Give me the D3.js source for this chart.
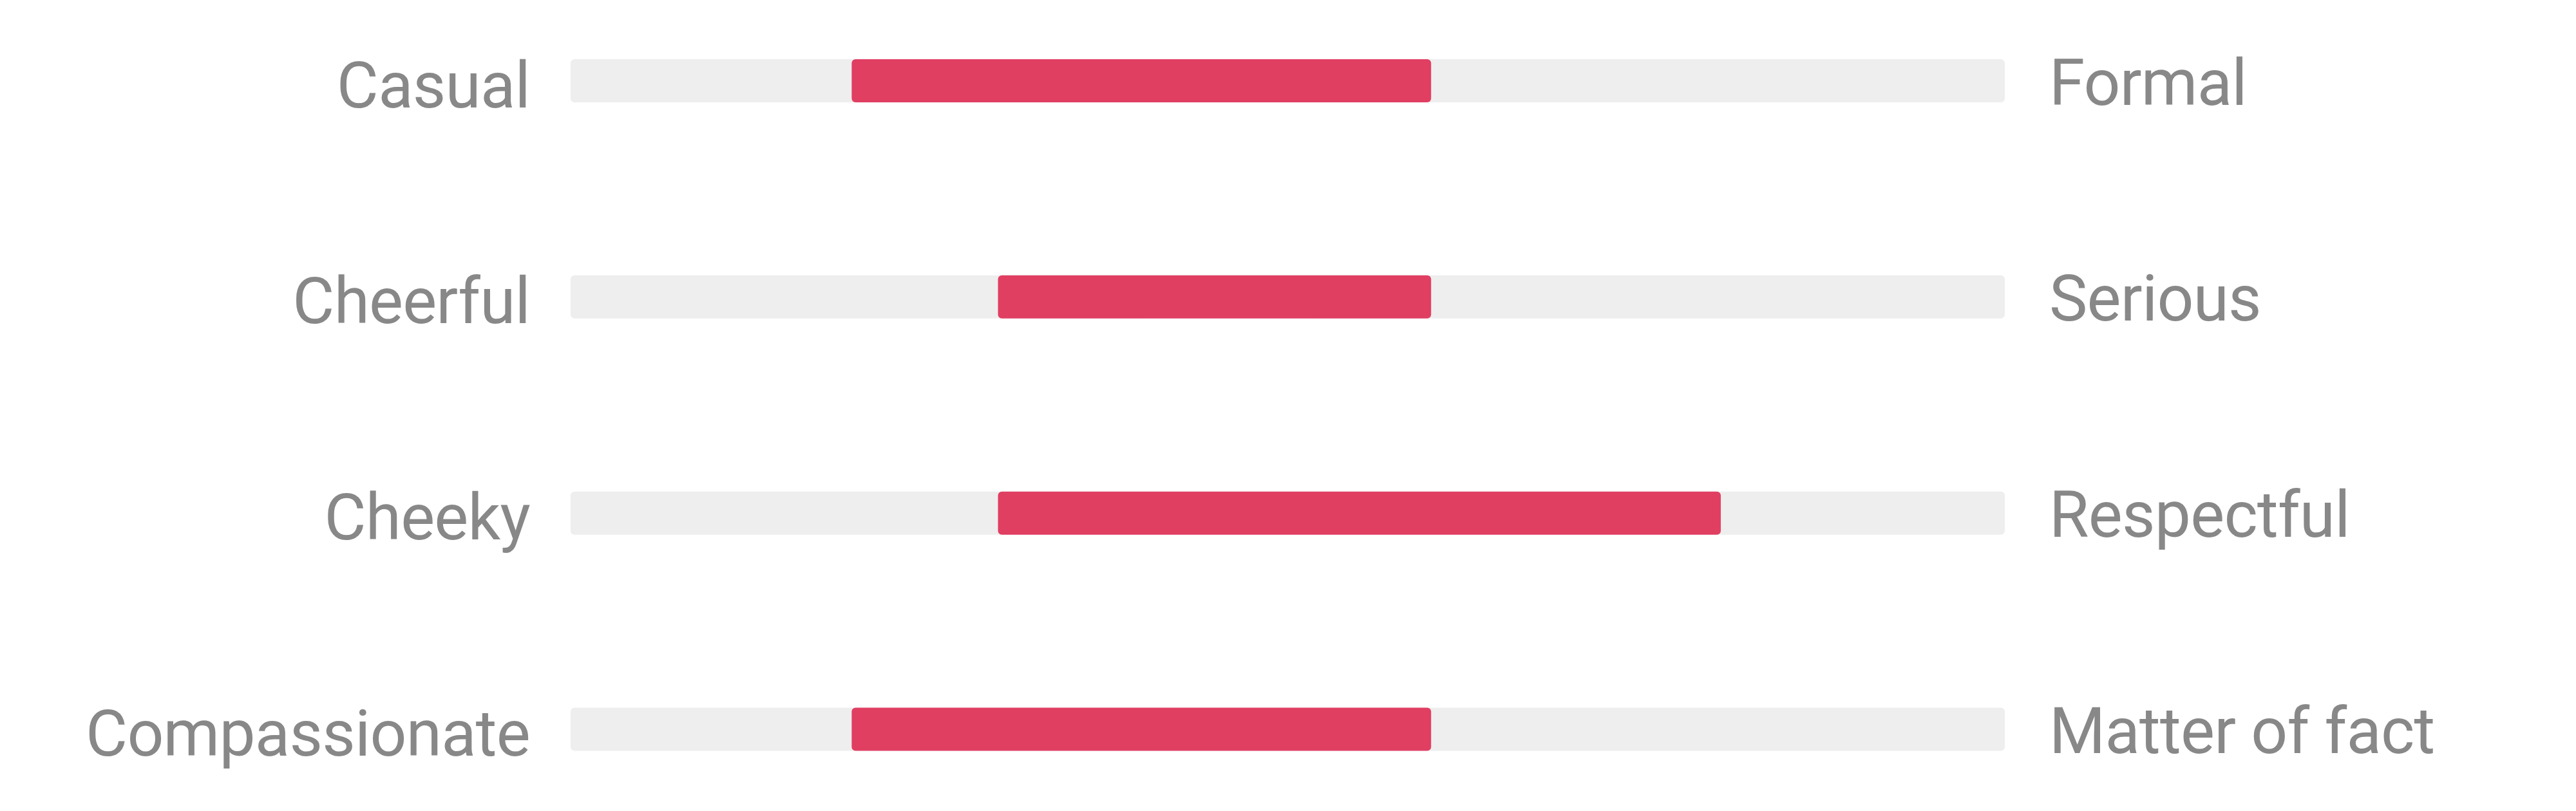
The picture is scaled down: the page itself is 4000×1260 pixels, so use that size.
<!DOCTYPE html>
<html>
<head>
<meta charset="utf-8">
<script src="https://cdn.jsdelivr.net/npm/d3@7"></script>
<style>
  html, body { margin: 0; padding: 0; background: #ffffff; }
  svg { display: block; }
</style>
</head>
<body>
<script>
// Data
const leftLabels = ["Casual", "Cheerful", "Cheeky", "Compassionate"];
const rightLabels = ["Formal", "Serious", "Respectful", "Matter of fact"];
const rangeStart = [19.6, 29.8, 29.8, 19.6];
const rangeEnd = [60, 60, 80.2, 60];
const scaleDomain = [0, 100];

const W = 4000, H = 1260;
const svg = d3.select("body").append("svg").attr("width", W).attr("height", H);

const x = d3.scaleLinear().domain(scaleDomain).range([886, 3113]);
const y = d3.scalePoint().domain(leftLabels).range([125.5, 1133]);
const barH = 67;
const fontSize = 100;
const textColor = "#888888";

const rows = leftLabels.map((l, i) => ({
  left: l, right: rightLabels[i], s: rangeStart[i], e: rangeEnd[i]
}));

const g = svg.selectAll("g.row").data(rows).join("g").attr("class", "row");

g.append("rect")
  .attr("x", x(scaleDomain[0]))
  .attr("y", d => y(d.left) - barH / 2)
  .attr("width", x(scaleDomain[1]) - x(scaleDomain[0]))
  .attr("height", barH)
  .attr("rx", 6)
  .attr("fill", "#eeeeee");

g.append("rect")
  .attr("x", d => x(d.s))
  .attr("y", d => y(d.left) - barH / 2)
  .attr("width", d => x(d.e) - x(d.s))
  .attr("height", barH)
  .attr("rx", 6)
  .attr("fill", "#e03f62");

g.append("text")
  .attr("x", 823)
  .attr("y", d => y(d.left) + 41)
  .attr("text-anchor", "end")
  .attr("font-family", "Roboto, 'Noto Sans', sans-serif")
  .attr("font-size", fontSize)
  .attr("letter-spacing", -0.8)
  .attr("fill", textColor)
  .text(d => d.left);

g.append("text")
  .attr("x", 3182)
  .attr("y", d => y(d.left) + 37)
  .attr("text-anchor", "start")
  .attr("font-family", "Roboto, 'Noto Sans', sans-serif")
  .attr("font-size", fontSize)
  .attr("letter-spacing", -0.8)
  .attr("fill", textColor)
  .text(d => d.right);
</script>
</body>
</html>
